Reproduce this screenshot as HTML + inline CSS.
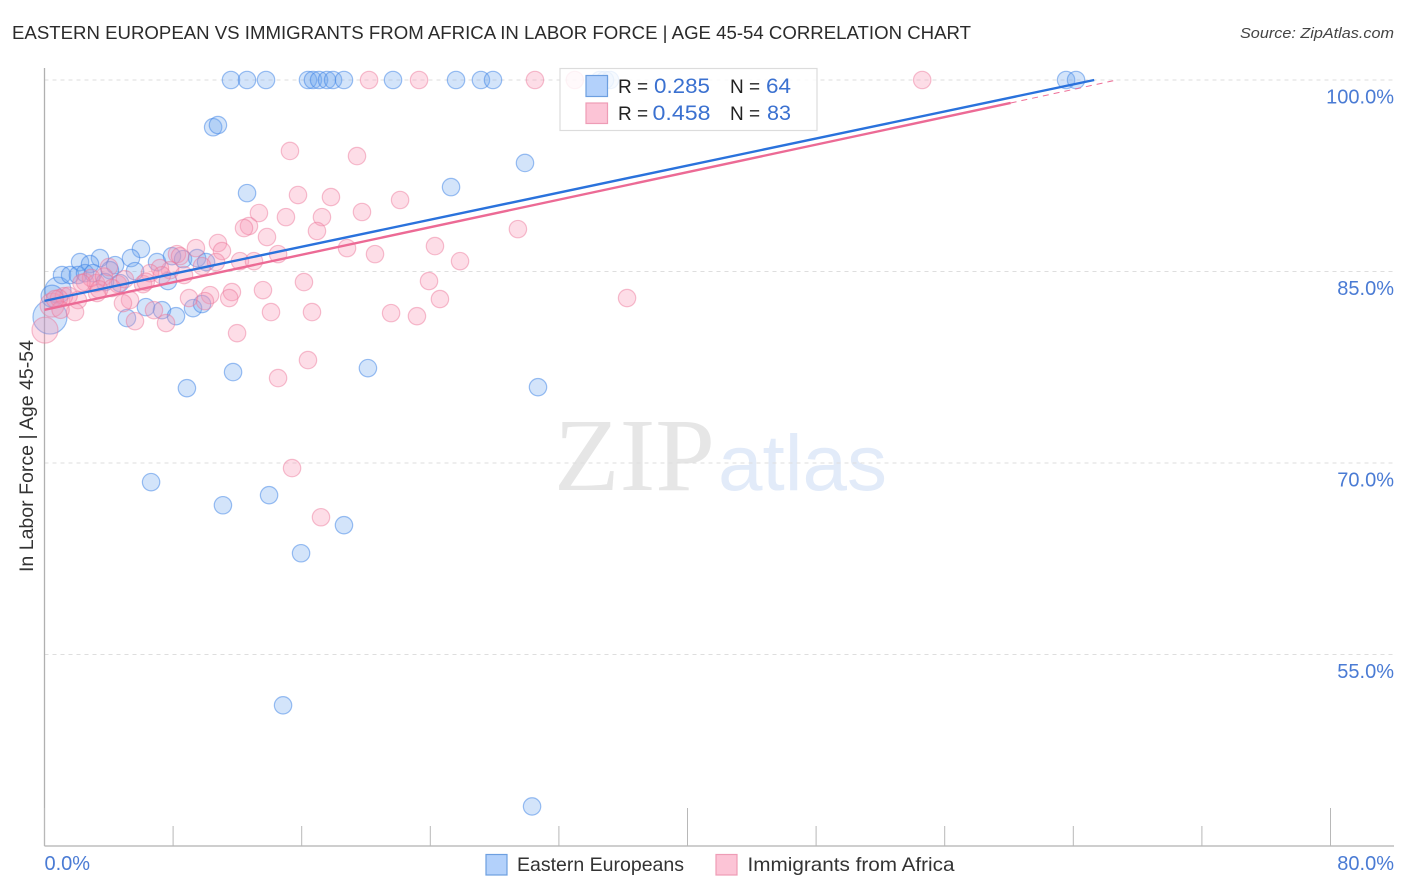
<!DOCTYPE html>
<html lang="en">
<head>
<meta charset="utf-8">
<title>Eastern European vs Immigrants from Africa in Labor Force | Age 45-54 Correlation Chart</title>
<style>
html,body{margin:0;padding:0;background:#fff;}
body{width:1406px;height:892px;overflow:hidden;}
svg{display:block;font-family:"Liberation Sans",sans-serif;}
</style>
</head>
<body>
<svg id="chart" width="1406" height="892" viewBox="0 0 1406 892" xmlns="http://www.w3.org/2000/svg">
  <text x="12" y="39" font-size="18.5" fill="#2b2b2b" textLength="959" lengthAdjust="spacingAndGlyphs">EASTERN EUROPEAN VS IMMIGRANTS FROM AFRICA IN LABOR FORCE | AGE 45-54 CORRELATION CHART</text>
  <text x="1394" y="38" font-size="15" font-style="italic" fill="#444" text-anchor="end" textLength="154" lengthAdjust="spacingAndGlyphs">Source: ZipAtlas.com</text>

  <g id="watermark">
    <text x="554" y="490" font-family="'Liberation Serif',serif" font-size="104" fill="#e6e6e6" textLength="161" lengthAdjust="spacingAndGlyphs">ZIP</text>
    <text x="718" y="490" font-family="'Liberation Sans',sans-serif" font-size="79" fill="#e2ebf9" textLength="169" lengthAdjust="spacingAndGlyphs">atlas</text>
  </g>

  <g id="grid"></g>
  <g id="axes"></g>
  <g id="marks"></g>
  <g id="trends"></g>

  <text transform="translate(33,456) rotate(-90)" font-size="19" fill="#333" text-anchor="middle" textLength="232" lengthAdjust="spacingAndGlyphs">In Labor Force | Age 45-54</text>

  <g>
    <rect x="560" y="68.5" width="257" height="62" fill="#fff" fill-opacity="0.82" stroke="#dcdcdc" stroke-width="1.2"/>
    <rect x="586" y="75.5" width="21.5" height="21" fill="#b3d1fb" stroke="#6d9fe0" stroke-width="1.2"/>
    <rect x="586" y="103" width="21.5" height="20.5" fill="#fcc4d6" stroke="#ee9cb6" stroke-width="1.2"/>
    <text x="618" y="93" font-size="19" fill="#222">R =</text>
    <text x="654" y="93" font-size="21" fill="#3b71d0" textLength="56" lengthAdjust="spacingAndGlyphs">0.285</text>
    <text x="730" y="93" font-size="19" fill="#222">N =</text>
    <text x="766" y="93" font-size="21" fill="#3b71d0" textLength="25" lengthAdjust="spacingAndGlyphs">64</text>
    <text x="618" y="120" font-size="19" fill="#222">R =</text>
    <text x="652.500" y="120" font-size="21" fill="#3b71d0" textLength="58" lengthAdjust="spacingAndGlyphs">0.458</text>
    <text x="730" y="120" font-size="19" fill="#222">N =</text>
    <text x="767" y="120" font-size="21" fill="#3b71d0" textLength="24" lengthAdjust="spacingAndGlyphs">83</text>
  </g>

  <g>
    <rect x="486" y="854.500" width="21" height="20.500" fill="#b3d1fb" stroke="#6d9fe0" stroke-width="1.2"/>
    <text x="517" y="871" font-size="19.500" fill="#333" textLength="167" lengthAdjust="spacingAndGlyphs">Eastern Europeans</text>
    <rect x="716" y="854.500" width="21" height="20.500" fill="#fcc4d6" stroke="#ee9cb6" stroke-width="1.2"/>
    <text x="747.500" y="871" font-size="19.500" fill="#333" textLength="207" lengthAdjust="spacingAndGlyphs">Immigrants from Africa</text>
  </g>
</svg>

<script>
// Chart data (percent values)
const xDomain = [0, 80];
const yDomain = [40, 100];
const yTickValues = [100, 85, 70, 55];
const yTickLabels = ["100.0%", "85.0%", "70.0%", "55.0%"];
const xTickValues = [0, 8, 16, 24, 32, 40, 48, 56, 64, 72, 80];
const xMajorTicks = [0, 40, 80];
const xEndLabels = ["0.0%", "80.0%"];

const easternX = [11.6,12.6,13.78,16.39,16.7,17.08,17.57,17.95,18.63,21.68,25.6,27.15,27.9,63.55,64.17,34.55,34.87,35.18,
  10.49,10.79,29.89,25.29,12.6,6.0,3.45,5.38,2.21,2.83,4.39,7.0,7.93,8.62,9.49,10.05,
  1.09,1.59,2.08,2.52,3.02,4.07,5.63,4.7,3.76,7.68,
  5.13,6.31,7.31,8.18,9.24,9.8,
  8.86,11.73,20.12,30.7,6.63,11.1,13.97,18.63,15.96,14.84,30.33];
const easternY = [100,100,100,100,100,100,100,100,100,100,100,100,100,100,100,100,100,100,
  96.3,96.47,93.5,91.61,91.14,86.76,86.05,86.05,85.74,85.58,85.5,85.74,86.2,85.97,86.05,85.74,
  84.72,84.72,84.72,84.87,84.87,85.1,85.03,84.09,84.17,84.25,
  81.35,82.21,81.97,81.5,82.13,82.45,
  75.86,77.12,77.43,75.94,68.5,66.69,67.48,65.13,62.93,51.02,43.1];
const easternLargeX = [0.34,0.84,0.47];
const easternLargeY = [81.43,83.54,83.07];
const easternLargeWeight = [17,13,11];

const africaX = [20.19,23.3,30.51,32.99,54.6,
  15.27,19.44,15.77,17.82,22.12,13.34,19.75,15.02,17.26,12.72,12.41,16.95,29.45,13.84,18.82,24.29,
  10.79,9.42,11.04,20.56,14.53,25.85,8.24,8.43,12.16,13.03,10.67,9.8,7.81,7.18,8.68,6.56,4.01,
  16.14,23.92,6.13,4.57,2.52,3.2,13.59,11.66,10.3,8.99,11.49,9.98,24.6,36.24,5.32,4.88,3.27,2.08,1.21,
  1.9,14.09,16.64,21.56,23.17,5.63,6.81,7.56,11.98,16.39,14.53,15.4,17.2,
  2.9,3.7,5.0,6.3,1.5,2.3,0.9,1.0,0.65,4.2,3.4,7.3];
const africaY = [100,100,100,100,100,
  94.44,94.04,90.99,90.83,90.6,89.58,89.66,89.26,89.26,88.56,88.4,88.17,88.32,87.7,86.83,86.99,
  87.23,86.83,86.6,86.36,86.36,85.81,86.36,86.2,85.81,85.81,85.74,85.42,85.1,85.27,84.72,84.87,85.35,
  84.17,84.25,84.01,84.01,84.17,84.09,83.54,83.39,83.15,82.92,82.92,82.68,82.84,82.92,82.76,82.52,83.31,82.76,83.07,
  81.82,81.82,81.82,81.74,81.5,81.11,81.97,80.96,80.17,78.06,76.65,69.6,65.75,
  84.5,84.6,84.4,84.2,83.1,84.1,82.9,82.0,82.84,83.7,83.6,84.7];
const africaLargeX = [0.03,0.47];
const africaLargeY = [80.41,82.37];
const africaLargeWeight = [13,12];

const easternTrendX = [0, 65.3];
const easternTrendY = [82.7, 100];
const africaTrendX = [0, 60.1, 66.7];
const africaTrendY = [82.0, 98.2, 100];

const NS = "http://www.w3.org/2000/svg";
const plot = {left: 44.5, right: 1330.5, top: 80, bottom: 846};
function xScale(v){ return plot.left + (v - xDomain[0]) / (xDomain[1] - xDomain[0]) * (plot.right - plot.left); }
function yScale(v){ return plot.bottom - (v - yDomain[0]) / (yDomain[1] - yDomain[0]) * (plot.bottom - plot.top); }
function make(tag, attrs){
  const el = document.createElementNS(NS, tag);
  for (const k in attrs) el.setAttribute(k, attrs[k]);
  return el;
}

const gridG = document.getElementById("grid");
const axesG = document.getElementById("axes");
const marksG = document.getElementById("marks");
const trendsG = document.getElementById("trends");

yTickValues.forEach(function(v, i){
  const line = make("line", {x1: plot.left, x2: 1394, y1: yScale(v), y2: yScale(v), stroke: "#dedede", "stroke-width": 1, "stroke-dasharray": "4 4"});
  
  
  gridG.appendChild(line);
  const label = make("text", {x: 1394, y: yScale(v) + 23.5, "font-size": 20, fill: "#4a7bd4", "text-anchor": "end"});
  
  
  label.textContent = yTickLabels[i];
  axesG.appendChild(label);
});

const yAxis = make("line", {x1: plot.left, x2: plot.left, y1: 68, y2: plot.bottom, stroke: "#b0b0b0", "stroke-width": 1.3});


axesG.appendChild(yAxis);

const xAxis = make("line", {x1: plot.left, x2: 1394, y1: plot.bottom, y2: plot.bottom, stroke: "#b0b0b0", "stroke-width": 1.3});


axesG.appendChild(xAxis);

xTickValues.forEach(function(v){
  const tall = xMajorTicks.indexOf(v) >= 0;
  const tick = make("line", {x1: xScale(v), x2: xScale(v), y1: plot.bottom - (tall ? 38 : 20), y2: plot.bottom, stroke: "#b8b8b8", "stroke-width": 1});
  
  
  axesG.appendChild(tick);
});

const xLabelMin = make("text", {x: plot.left, y: 870, "font-size": 20, fill: "#4a7bd4"});


xLabelMin.textContent = xEndLabels[0];
axesG.appendChild(xLabelMin);

const xLabelMax = make("text", {x: 1394, y: 870, "font-size": 20, fill: "#4a7bd4", "text-anchor": "end"});


xLabelMax.textContent = xEndLabels[1];
axesG.appendChild(xLabelMax);

const easternStyle = {fill: "rgba(110,165,240,0.30)", stroke: "rgba(60,130,230,0.50)", "stroke-width": 1.2};
const africaStyle = {fill: "rgba(248,150,180,0.32)", stroke: "rgba(235,115,150,0.45)", "stroke-width": 1.2};

function drawDot(xv, yv, r, style, name){
  const c = make("circle", {cx: xScale(xv), cy: yScale(yv), r: r, fill: style.fill, stroke: style.stroke, "stroke-width": style["stroke-width"]});
  
  
  marksG.appendChild(c);
}

easternLargeX.forEach(function(v, i){ drawDot(v, easternLargeY[i], easternLargeWeight[i], easternStyle, "point-eastern-european"); });
easternX.forEach(function(v, i){ drawDot(v, easternY[i], 8.7, easternStyle, "point-eastern-european"); });
africaLargeX.forEach(function(v, i){ drawDot(v, africaLargeY[i], africaLargeWeight[i], africaStyle, "point-immigrants-africa"); });
africaX.forEach(function(v, i){ drawDot(v, africaY[i], 8.7, africaStyle, "point-immigrants-africa"); });

const africaDash = make("line", {x1: xScale(africaTrendX[1]), y1: yScale(africaTrendY[1]), x2: xScale(africaTrendX[2]), y2: yScale(africaTrendY[2]), stroke: "#ee6f98", "stroke-width": 1, "stroke-dasharray": "6 5"});


trendsG.appendChild(africaDash);

const africaLine = make("line", {x1: xScale(africaTrendX[0]), y1: yScale(africaTrendY[0]), x2: xScale(africaTrendX[1]), y2: yScale(africaTrendY[1]), stroke: "#ec6a95", "stroke-width": 2.4});


trendsG.appendChild(africaLine);

const easternLine = make("line", {x1: xScale(easternTrendX[0]), y1: yScale(easternTrendY[0]), x2: xScale(easternTrendX[1]), y2: yScale(easternTrendY[1]), stroke: "#2a72dc", "stroke-width": 2.4});


trendsG.appendChild(easternLine);
</script>
</body>
</html>
